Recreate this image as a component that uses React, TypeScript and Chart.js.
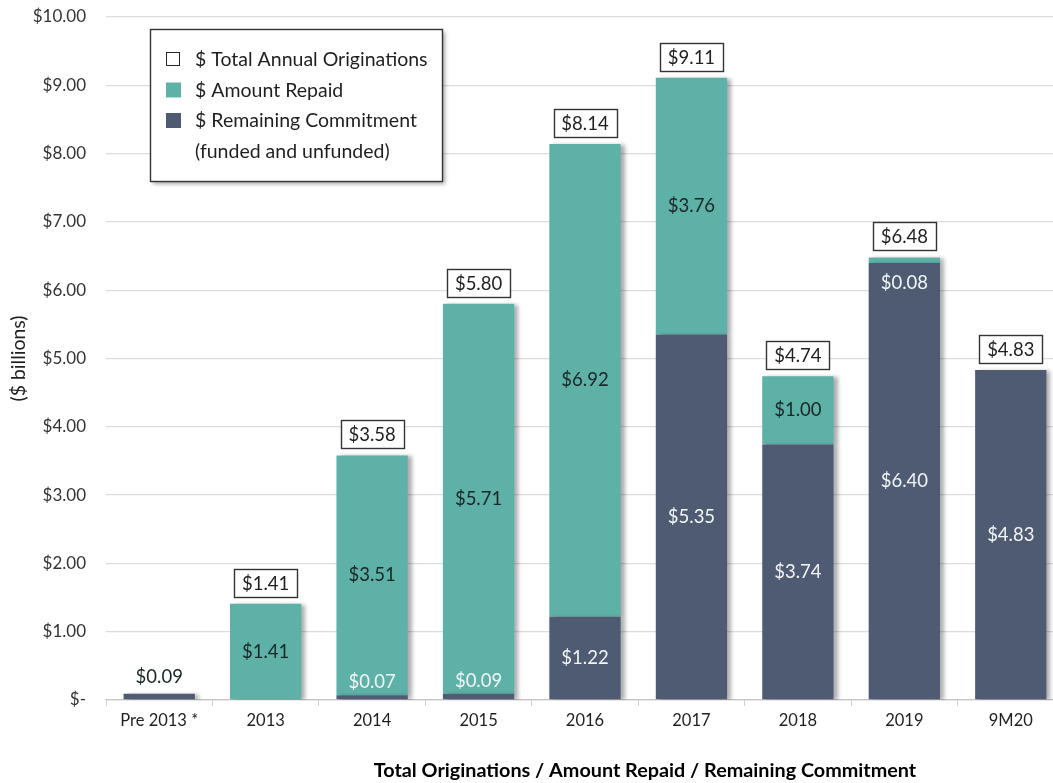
import { useEffect, useRef } from "react";
import { Chart, registerables } from "chart.js";

Chart.register(...registerables);

// Categories and values ($ billions)
const categories = ["Pre 2013 *", "2013", "2014", "2015", "2016", "2017", "2018", "2019", "9M20"];
const remainingCommitment = [0.09, 0, 0.07, 0.09, 1.22, 5.35, 3.74, 6.4, 4.83];
const amountRepaid = [0, 1.41, 3.51, 5.71, 6.92, 3.76, 1.0, 0.08, 0];
// Whether the annual total is shown in an outlined box above the bar
const boxedTotals = [false, true, true, true, true, true, true, true, true];

const yMin = 0;
const yMax = 10;
const yStep = 1;

const legendItems = [
  { lines: ["$ Total Annual Originations"], kind: "outline" },
  { lines: ["$ Amount Repaid"], kind: "repaid" },
  { lines: ["$ Remaining Commitment", "(funded and unfunded)"], kind: "remaining" },
];

const xTitle = "Total Originations / Amount Repaid / Remaining Commitment";
const yTitle = "($ billions)";

const TEAL = "#5db1a7";
const SLATE = "#4e5b73";
const DARK_TEXT = "#1a2626";
const LIGHT_TEXT = "#f2f4f6";
const FONT = "Lato, 'Open Sans', sans-serif";

const money = (v: number) => (v === 0 ? "$-" : "$" + v.toFixed(2));

const barLabelsPlugin = {
  id: "barLabels",
  beforeDatasetsDraw(chart: any) {
    const ctx = chart.ctx;
    ctx.save();
    ctx.shadowColor = "rgba(0,0,0,0.32)";
    ctx.shadowOffsetX = 4;
    ctx.shadowOffsetY = 1;
    ctx.shadowBlur = 4;
  },
  afterDatasetsDraw(chart: any) {
    const ctx = chart.ctx;
    ctx.restore();
    const xs = chart.scales.x;
    const ys = chart.scales.y;
    ctx.save();
    ctx.textAlign = "center";
    ctx.textBaseline = "middle";
    ctx.font = `18.5px ${FONT}`;
    categories.forEach((_, i) => {
      const cx = xs.getPixelForValue(i);
      const r = remainingCommitment[i];
      const a = amountRepaid[i];
      const total = r + a;
      // Remaining commitment segment label
      if (r > 0) {
        if (r >= 0.5) {
          ctx.fillStyle = LIGHT_TEXT;
          ctx.fillText(money(r), cx, ys.getPixelForValue(r / 2));
        } else if (a > 0) {
          ctx.fillStyle = LIGHT_TEXT;
          ctx.fillText(money(r), cx, ys.getPixelForValue(r) - 13);
        } else {
          ctx.fillStyle = DARK_TEXT;
          ctx.fillText(money(r), cx, ys.getPixelForValue(r) - 17);
        }
      }
      // Amount repaid segment label
      if (a > 0) {
        if (a >= 0.5) {
          ctx.fillStyle = DARK_TEXT;
          ctx.fillText(money(a), cx, ys.getPixelForValue(r + a / 2));
        } else {
          ctx.fillStyle = LIGHT_TEXT;
          ctx.fillText(money(a), cx, ys.getPixelForValue(r) + 20);
        }
      }
      // Outlined total above the bar
      if (boxedTotals[i]) {
        const text = money(total);
        const w = Math.round(ctx.measureText(text).width + 16);
        const h = 28;
        const bottom = ys.getPixelForValue(total) - 7;
        const left = Math.round(cx - w / 2) + 0.5;
        const top = Math.round(bottom - h) + 0.5;
        ctx.fillStyle = "#ffffff";
        ctx.fillRect(left, top, w, h);
        ctx.strokeStyle = "#333333";
        ctx.lineWidth = 1.4;
        ctx.strokeRect(left, top, w, h);
        ctx.fillStyle = "#1f1f1f";
        ctx.fillText(text, cx, top + h / 2 + 1);
      }
    });
    ctx.restore();
  },
};

const legendPlugin = {
  id: "boxLegend",
  afterDraw(chart: any) {
    const ctx = chart.ctx;
    const area = chart.chartArea;
    const left = area.left + 44;
    const top = area.top + 12;
    const w = 292;
    const h = 152;
    ctx.save();
    ctx.shadowColor = "rgba(0,0,0,0.35)";
    ctx.shadowOffsetX = 3;
    ctx.shadowOffsetY = 3;
    ctx.shadowBlur = 4;
    ctx.fillStyle = "#ffffff";
    ctx.fillRect(left, top, w, h);
    ctx.restore();
    ctx.save();
    ctx.strokeStyle = "#333333";
    ctx.lineWidth = 1.4;
    ctx.strokeRect(left + 0.5, top + 0.5, w, h);
    ctx.font = `19.5px ${FONT}`;
    ctx.textBaseline = "middle";
    ctx.textAlign = "left";
    let rowY = top + 30;
    const lineGap = 30.5;
    legendItems.forEach((item) => {
      const sx = left + 16;
      const sy = rowY - 7;
      if (item.kind === "outline") {
        ctx.fillStyle = "#ffffff";
        ctx.fillRect(sx, sy, 14, 14);
        ctx.strokeStyle = "#262626";
        ctx.lineWidth = 1;
        ctx.strokeRect(sx + 0.5, sy + 0.5, 13, 13);
      } else {
        ctx.fillStyle = item.kind === "repaid" ? TEAL : SLATE;
        ctx.fillRect(sx, sy, 15, 15);
      }
      ctx.fillStyle = "#1f1f1f";
      item.lines.forEach((line) => {
        ctx.fillText(line, left + 45, rowY + 1);
        rowY += lineGap;
      });
    });
    ctx.restore();
  },
};

const xTitlePlugin = {
  id: "xTitle",
  afterDraw(chart: any) {
    const ctx = chart.ctx;
    const area = chart.chartArea;
    ctx.save();
    ctx.font = `bold 19.8px ${FONT}`;
    ctx.fillStyle = "#000000";
    ctx.textAlign = "center";
    ctx.textBaseline = "middle";
    ctx.fillText(xTitle, (area.left + area.right) / 2 + 60, chart.height - 12);
    ctx.restore();
  },
};

export default function App() {
  const canvasRef = useRef<HTMLCanvasElement | null>(null);

  useEffect(() => {
    const canvas = canvasRef.current;
    if (!canvas) return;
    const chart = new Chart(canvas, {
      type: "bar",
      data: {
        labels: categories,
        datasets: [
          {
            label: "$ Remaining Commitment (funded and unfunded)",
            data: remainingCommitment,
            backgroundColor: SLATE,
            barPercentage: 0.67,
            categoryPercentage: 1,
            stack: "s",
          },
          {
            label: "$ Amount Repaid",
            data: amountRepaid,
            backgroundColor: TEAL,
            barPercentage: 0.67,
            categoryPercentage: 1,
            stack: "s",
          },
        ],
      },
      options: {
        responsive: false,
        animation: false,
        devicePixelRatio: 1,
        layout: { padding: { top: 17, right: 2, left: 0, bottom: 0 } },
        plugins: {
          legend: { display: false },
          tooltip: { enabled: false },
        },
        scales: {
          x: {
            stacked: true,
            grid: {
              drawOnChartArea: false,
              drawTicks: true,
              tickLength: 6,
              color: "#d0d0d0",
            },
            border: { display: true, color: "#c4c4c4", width: 1.3 },
            ticks: {
              color: "#1f1f1f",
              font: { family: FONT, size: 16.5 },
              padding: 5,
              maxRotation: 0,
              autoSkip: false,
            },
            afterFit(scale: any) {
              scale.height = 83;
            },
          },
          y: {
            stacked: true,
            min: yMin,
            max: yMax,
            grid: { color: "#dcdcdc", lineWidth: 1.3, drawTicks: false },
            border: { display: false },
            ticks: {
              stepSize: yStep,
              color: "#333333",
              font: { family: FONT, size: 17 },
              padding: 20,
              callback: (v: any) => money(Number(v)),
            },
            title: {
              display: true,
              text: yTitle,
              color: "#1f1f1f",
              font: { family: FONT, size: 19.5 },
              padding: { top: 7, bottom: 0 },
            },
            afterFit(scale: any) {
              scale.width = 106;
              scale.paddingTop = 0;
              scale.paddingBottom = 0;
            },
          },
        },
      },
      plugins: [barLabelsPlugin, legendPlugin, xTitlePlugin],
    });
    return () => chart.destroy();
  }, []);

  return (
    <div
      style={{
        position: "fixed",
        left: 0,
        top: 0,
        width: 1053,
        height: 783,
        overflow: "hidden",
        background: "#ffffff",
      }}
    >
      <canvas ref={canvasRef} width={1066} height={783} style={{ width: 1066, height: 783, display: "block" }} />
    </div>
  );
}
